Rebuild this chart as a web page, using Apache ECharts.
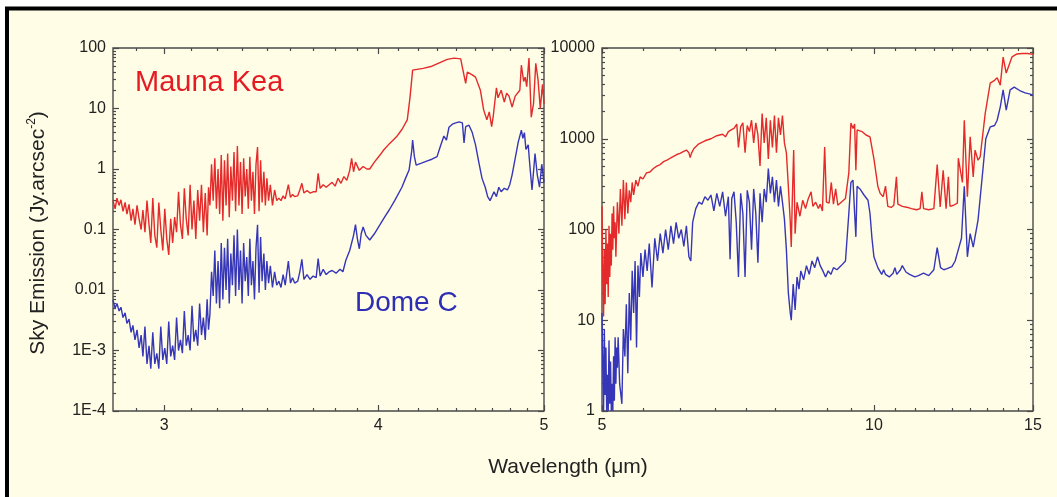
<!DOCTYPE html>
<html>
<head>
<meta charset="utf-8">
<script src="https://cdn.jsdelivr.net/npm/echarts@6/dist/echarts.min.js"></script>
<style>
html,body{margin:0;padding:0;background:#ffffff;}
#chart{width:1057px;height:497px;}
</style>
</head>
<body>
<div id="chart"></div>
<script>
// ---------- tick values and labels ----------
const leftXTicks = [3, 4, 5];
const leftXLabels = ['3', '4', '5'];
const rightXTicks = [5, 10, 15];
const rightXLabels = ['5', '10', '15'];
const leftYTicks = [1e-4, 1e-3, 0.01, 0.1, 1, 10, 100];
const leftYLabels = ['1E-4', '1E-3', '0.01', '0.1', '1', '10', '100'];
const rightYTicks = [1, 10, 100, 1000, 10000];
const rightYLabels = ['1', '10', '100', '1000', '10000'];

// ---------- data: [wavelength (um), sky emission (Jy/arcsec^2)] ----------
const maunaKeaLeft = [
[2.800,0.30],[2.808,0.22],[2.815,0.33],[2.823,0.25],[2.830,0.31],[2.838,0.20],[2.846,0.28],[2.853,0.18],[2.861,0.26],[2.869,0.14],
[2.876,0.22],[2.884,0.12],[2.892,0.25],[2.900,0.15],[2.908,0.10],[2.915,0.21],[2.923,0.09],[2.931,0.30],[2.939,0.12],[2.946,0.06],
[2.954,0.33],[2.962,0.08],[2.970,0.05],[2.978,0.28],[2.986,0.10],[2.994,0.045],[3.002,0.22],[3.010,0.07],[3.018,0.038],[3.026,0.15],
[3.034,0.06],[3.042,0.16],[3.050,0.09],[3.058,0.42],[3.066,0.12],[3.074,0.07],[3.082,0.48],[3.090,0.15],[3.098,0.08],[3.106,0.55],
[3.114,0.10],[3.122,0.30],[3.130,0.07],[3.138,0.45],[3.146,0.14],[3.154,0.55],[3.162,0.09],[3.170,0.40],[3.178,0.08],[3.184,0.50],
[3.190,0.25],[3.197,1.2],[3.204,0.30],[3.211,1.5],[3.218,0.22],[3.225,1.0],[3.232,0.18],[3.239,1.7],[3.246,0.14],[3.253,1.4],
[3.260,0.25],[3.267,1.8],[3.274,0.16],[3.281,1.1],[3.288,0.30],[3.295,1.9],[3.302,0.20],[3.310,2.4],[3.317,0.25],[3.324,1.3],
[3.331,0.18],[3.338,1.5],[3.345,0.35],[3.352,1.0],[3.359,0.22],[3.366,1.6],[3.373,0.30],[3.380,0.9],[3.387,0.18],[3.394,1.2],
[3.401,2.3],[3.408,0.20],[3.415,1.4],[3.422,0.28],[3.430,0.9],[3.437,0.25],[3.444,0.7],[3.452,0.30],[3.460,0.55],[3.470,0.25],
[3.480,0.45],[3.490,0.30],[3.500,0.33],[3.510,0.30],[3.520,0.36],[3.530,0.32],[3.545,0.55],[3.555,0.34],[3.565,0.38],[3.575,0.35],
[3.590,0.36],[3.600,0.45],[3.610,0.58],[3.620,0.40],[3.635,0.44],[3.650,0.40],[3.665,0.42],[3.680,0.42],[3.690,0.85],[3.700,0.48],
[3.715,0.55],[3.730,0.50],[3.745,0.55],[3.760,0.60],[3.775,0.52],[3.790,0.70],[3.805,0.58],[3.820,0.75],[3.835,0.65],[3.850,0.95],
[3.860,1.5],[3.870,0.9],[3.880,1.3],[3.900,0.95],[3.920,1.1],[3.940,1.0],[3.955,1.0],[3.980,1.3],[4.010,1.7],[4.030,2.06],
[4.060,2.6],[4.100,3.4],[4.130,4.5],[4.160,6.5],[4.175,15],[4.190,43],[4.250,46],[4.300,50],[4.350,58],[4.390,65],
[4.430,68],[4.470,66],[4.480,48],[4.500,26],[4.510,40],[4.540,36],[4.560,33],[4.590,20],[4.610,9.5],[4.630,6.5],
[4.645,8.8],[4.660,5],[4.670,7.5],[4.690,22],[4.700,15],[4.720,20],[4.740,12.8],[4.755,18],[4.770,16],[4.790,10.6],
[4.810,16],[4.840,20],[4.850,52],[4.865,28],[4.875,33],[4.885,23],[4.900,68],[4.915,7.2],[4.930,12],[4.945,56],
[4.960,30],[4.975,10],[4.990,25],[5.000,12]
];

const domeCLeft = [
[2.800,0.0068],[2.808,0.0050],[2.815,0.0060],[2.823,0.0045],[2.830,0.0052],[2.838,0.0035],[2.846,0.0042],[2.853,0.0028],[2.861,0.0033],[2.869,0.0020],
[2.876,0.0026],[2.884,0.0015],[2.892,0.0022],[2.900,0.0011],[2.908,0.0018],[2.915,0.0008],[2.923,0.0025],[2.931,0.0006],[2.939,0.0012],[2.946,0.0005],
[2.954,0.0020],[2.962,0.0006],[2.970,0.0009],[2.978,0.0005],[2.986,0.0025],[2.994,0.0007],[3.002,0.0011],[3.010,0.0006],[3.018,0.0030],[3.026,0.0008],
[3.034,0.0012],[3.042,0.0007],[3.050,0.0035],[3.058,0.0010],[3.066,0.0015],[3.074,0.0009],[3.082,0.0045],[3.090,0.0012],[3.098,0.0018],[3.106,0.0010],
[3.114,0.0055],[3.122,0.0014],[3.130,0.0022],[3.138,0.0012],[3.146,0.0060],[3.154,0.0018],[3.162,0.0035],[3.170,0.0015],[3.178,0.0070],[3.184,0.0022],
[3.190,0.0040],[3.197,0.020],[3.204,0.008],[3.211,0.045],[3.218,0.006],[3.225,0.030],[3.232,0.005],[3.239,0.060],[3.246,0.007],[3.253,0.050],
[3.260,0.010],[3.267,0.070],[3.274,0.006],[3.281,0.040],[3.288,0.012],[3.295,0.080],[3.302,0.008],[3.310,0.100],[3.317,0.010],[3.324,0.045],
[3.331,0.006],[3.338,0.060],[3.345,0.014],[3.352,0.035],[3.359,0.008],[3.366,0.070],[3.373,0.012],[3.380,0.030],[3.387,0.007],[3.394,0.050],
[3.401,0.120],[3.408,0.009],[3.415,0.075],[3.422,0.014],[3.430,0.040],[3.437,0.010],[3.444,0.030],[3.452,0.013],[3.460,0.025],[3.470,0.011],
[3.480,0.020],[3.490,0.012],[3.500,0.014],[3.510,0.011],[3.520,0.018],[3.530,0.012],[3.545,0.030],[3.555,0.013],[3.565,0.016],[3.575,0.013],
[3.590,0.014],[3.600,0.020],[3.610,0.032],[3.620,0.015],[3.635,0.018],[3.650,0.015],[3.665,0.017],[3.680,0.016],[3.690,0.033],[3.700,0.017],
[3.715,0.022],[3.730,0.018],[3.745,0.020],[3.760,0.021],[3.780,0.019],[3.800,0.022],[3.815,0.020],[3.830,0.031],[3.850,0.045],[3.870,0.080],
[3.880,0.120],[3.890,0.070],[3.900,0.048],[3.910,0.085],[3.920,0.110],[3.935,0.080],[3.955,0.067],[3.980,0.085],[4.010,0.120],[4.040,0.170],
[4.060,0.210],[4.090,0.300],[4.130,0.50],[4.150,0.70],[4.170,0.96],[4.185,2.0],[4.190,3.0],[4.200,1.6],[4.210,1.16],[4.240,1.25],
[4.270,1.35],[4.300,1.45],[4.330,1.6],[4.350,2.4],[4.370,3.5],[4.385,3.0],[4.400,4.9],[4.420,5.5],[4.440,5.8],[4.460,6.0],
[4.480,5.8],[4.490,2.7],[4.500,5.0],[4.520,5.3],[4.540,4.0],[4.560,2.5],[4.580,1.3],[4.600,0.7],[4.620,0.5],[4.635,0.35],
[4.650,0.30],[4.660,0.28],[4.675,0.42],[4.690,0.35],[4.705,0.50],[4.720,0.42],[4.740,0.48],[4.760,0.45],[4.775,0.55],[4.790,0.80],
[4.810,1.5],[4.830,2.8],[4.850,4.4],[4.860,3.2],[4.870,4.0],[4.880,2.1],[4.895,2.5],[4.905,1.2],[4.920,0.45],[4.940,1.8],
[4.955,0.8],[4.970,0.5],[4.985,1.2],[5.000,0.6]
];

const maunaKeaRight = [
[5.00,180],[5.01,30],[5.02,11],[5.03,60],[5.04,15],[5.05,100],[5.06,25],[5.07,70],[5.08,18],[5.09,110],
[5.10,30],[5.11,90],[5.12,40],[5.13,150],[5.14,60],[5.15,180],[5.16,80],[5.17,120],[5.18,50],[5.20,200],
[5.22,90],[5.24,280],[5.26,110],[5.28,350],[5.30,130],[5.32,330],[5.34,150],[5.36,270],[5.38,200],[5.40,330],
[5.42,240],[5.45,350],[5.48,300],[5.51,380],[5.55,360],[5.60,420],[5.65,430],[5.70,470],[5.75,500],[5.80,520],
[5.85,560],[5.90,580],[5.95,610],[6.00,640],[6.05,670],[6.10,690],[6.15,720],[6.20,750],[6.24,700],[6.26,620],
[6.28,690],[6.32,780],[6.40,880],[6.50,950],[6.60,1000],[6.70,1080],[6.80,1120],[6.85,1050],[6.90,1200],[6.95,1250],
[7.00,1300],[7.05,1450],[7.08,800],[7.12,1350],[7.16,1500],[7.20,700],[7.24,1400],[7.28,1200],[7.32,1600],[7.36,900],
[7.40,1500],[7.44,1100],[7.48,500],[7.52,1900],[7.56,900],[7.60,1700],[7.64,600],[7.68,1600],[7.72,800],[7.76,1800],
[7.80,700],[7.84,1700],[7.88,1100],[7.92,1800],[7.96,900],[8.00,700],[8.04,300],[8.08,120],[8.10,64],[8.12,200],
[8.15,750],[8.18,90],[8.22,200],[8.28,140],[8.34,210],[8.40,170],[8.46,220],[8.52,260],[8.56,180],[8.62,200],
[8.68,170],[8.72,190],[8.77,160],[8.82,810],[8.86,200],[8.92,195],[8.97,330],[9.02,190],[9.07,280],[9.12,185],
[9.20,200],[9.30,220],[9.38,420],[9.43,1490],[9.48,1300],[9.52,1450],[9.55,450],[9.58,1250],[9.70,1200],[9.80,1100],
[9.90,1050],[10.00,600],[10.10,300],[10.16,250],[10.24,230],[10.30,300],[10.36,180],[10.45,175],[10.52,185],[10.59,380],
[10.63,190],[10.75,180],[10.90,175],[11.00,170],[11.15,165],[11.25,170],[11.30,260],[11.35,170],[11.50,165],[11.65,170],
[11.75,520],[11.84,177],[11.93,450],[12.02,170],[12.09,380],[12.14,180],[12.25,185],[12.37,195],[12.40,610],[12.53,330],
[12.59,1600],[12.69,230],[12.78,1050],[12.88,380],[12.94,750],[13.04,580],[13.11,630],[13.28,1900],[13.45,4100],[13.60,4400],
[13.69,4700],[13.80,3900],[13.90,7950],[14.01,5300],[14.22,8000],[14.40,8600],[14.60,8700],[14.80,8700],[15.00,8500]
];

const domeCRight = [
[5.00,12],[5.01,3],[5.02,1.0],[5.03,8],[5.04,1.5],[5.05,5],[5.06,1.0],[5.07,2.5],[5.08,1.0],[5.09,6],
[5.10,1.2],[5.11,3.5],[5.12,1.0],[5.13,2.0],[5.14,1.0],[5.15,4],[5.16,1.3],[5.17,6.5],[5.18,2.0],[5.19,5],
[5.20,3.0],[5.21,6.5],[5.23,2.0],[5.26,1.2],[5.28,8],[5.30,4],[5.32,15],[5.34,2.6],[5.36,20],[5.38,6],
[5.40,35],[5.42,12],[5.44,45],[5.46,5],[5.48,40],[5.50,18],[5.52,55],[5.55,30],[5.58,60],[5.61,35],
[5.64,70],[5.68,23],[5.72,80],[5.76,45],[5.80,90],[5.84,55],[5.88,100],[5.92,60],[5.96,110],[6.00,70],
[6.04,120],[6.08,80],[6.12,100],[6.16,65],[6.20,110],[6.24,50],[6.27,45],[6.30,120],[6.35,170],[6.40,200],
[6.45,190],[6.50,230],[6.55,210],[6.60,240],[6.65,160],[6.70,250],[6.75,180],[6.80,260],[6.85,140],[6.90,230],
[6.93,47],[6.96,220],[7.00,260],[7.04,120],[7.08,30],[7.12,250],[7.16,150],[7.20,30],[7.24,270],[7.28,200],
[7.32,60],[7.36,280],[7.40,150],[7.44,43],[7.48,250],[7.52,120],[7.56,280],[7.60,200],[7.64,470],[7.68,250],
[7.72,380],[7.76,200],[7.80,350],[7.84,180],[7.88,300],[7.92,200],[7.96,130],[8.00,60],[8.04,20],[8.08,12],
[8.10,10],[8.14,25],[8.18,13],[8.22,30],[8.26,22],[8.30,35],[8.36,28],[8.42,40],[8.48,32],[8.54,45],
[8.60,38],[8.66,50],[8.72,40],[8.78,35],[8.84,30],[8.90,35],[8.96,32],[9.02,38],[9.10,36],[9.20,40],
[9.30,45],[9.38,150],[9.43,330],[9.48,350],[9.52,150],[9.55,83],[9.58,300],[9.65,280],[9.75,240],[9.85,210],
[9.90,150],[9.95,80],[10.00,50],[10.10,38],[10.20,32],[10.25,36],[10.30,32],[10.40,30],[10.50,33],[10.55,38],
[10.60,32],[10.70,36],[10.75,40],[10.85,34],[10.95,32],[11.10,30],[11.20,31],[11.35,33],[11.50,31],[11.65,36],
[11.75,63],[11.85,38],[11.95,36],[12.05,37],[12.20,39],[12.30,45],[12.40,60],[12.50,80],[12.59,300],[12.69,50],
[12.78,90],[12.88,64],[13.04,128],[13.20,450],[13.30,1000],[13.45,1350],[13.60,1400],[13.69,1600],[13.80,2250],[13.90,3450],
[14.01,2070],[14.15,3450],[14.30,3700],[14.50,3400],[14.70,3200],[14.90,3100],[15.00,3000]
];

// ---------- helpers ----------
function linearMinor(major, parts, min, max) {
  const out = [];
  const step = major[1] - major[0];
  for (let m = major[0] - step; m < major[major.length - 1]; m += step) {
    for (let k = 1; k < parts; k++) {
      const v = m + step * k / parts;
      if (v >= min - 1e-9 && v <= max + 1e-9) out.push(v);
    }
  }
  return out;
}
function logMinor(major) {
  const out = [];
  for (let i = 0; i < major.length - 1; i++) {
    for (let k = 2; k <= 9; k++) out.push(major[i] * k);
  }
  return out;
}
function labelFor(ticks, labels) {
  return function (v) {
    for (let i = 0; i < ticks.length; i++) {
      if (Math.abs(Math.log10(v) - Math.log10(ticks[i])) < 1e-6) return labels[i];
    }
    return '';
  };
}

const AX = '#4a4a4a';
const TXT = '#222222';
const FONT = 'Liberation Sans, Arial, sans-serif';

function axisSet(dim, gridIndex, min, max, major, labels, minor) {
  const posA = dim === 'x' ? 'bottom' : 'left';
  const posB = dim === 'x' ? 'top' : 'right';
  const base = {
    type: 'log', logBase: 10, gridIndex: gridIndex, min: min, max: max,
    axisLine: { show: false, onZero: false },
    splitLine: { show: false }, minorTick: { show: false }, minorSplitLine: { show: false }
  };
  const tick = (vals, len) => ({ show: true, inside: true, length: len, customValues: vals, lineStyle: { color: AX, width: 1.2 } });
  return [
    Object.assign({}, base, {
      position: posA, axisTick: tick(major, 6),
      axisLabel: { show: true, customValues: major, formatter: labelFor(major, labels),
        margin: 7, fontSize: 16, fontFamily: FONT, color: TXT }
    }),
    Object.assign({}, base, { position: posA, axisTick: tick(minor, 3), axisLabel: { show: false } }),
    Object.assign({}, base, { position: posB, axisTick: tick(major, 6), axisLabel: { show: false } }),
    Object.assign({}, base, { position: posB, axisTick: tick(minor, 3), axisLabel: { show: false } })
  ];
}

const leftXMinor = linearMinor(leftXTicks, 9, 2.8, 5);
const rightXMinor = linearMinor(rightXTicks, 9, 5, 15);

const xAxes = axisSet('x', 0, 2.8, 5, leftXTicks, leftXLabels, leftXMinor)
  .concat(axisSet('x', 1, 5, 15, rightXTicks, rightXLabels, rightXMinor));
const yAxes = axisSet('y', 0, 1e-4, 100, leftYTicks, leftYLabels, logMinor(leftYTicks))
  .concat(axisSet('y', 1, 1, 10000, rightYTicks, rightYLabels, logMinor(rightYTicks)));

const RED = '#e42a2a';
const BLUE = '#3636b8';
function line(data, color, axisIdx) {
  return {
    type: 'line', data: data, xAxisIndex: axisIdx, yAxisIndex: axisIdx,
    showSymbol: false, symbol: 'none', silent: true, animation: false,
    lineStyle: { color: color, width: 1.4 }, itemStyle: { color: color }
  };
}

const chart = echarts.init(document.getElementById('chart'), null, { renderer: 'canvas' });
chart.setOption({
  backgroundColor: '#ffffff',
  animation: false,
  grid: [
    { left: 113, top: 48, width: 431, height: 363, show: true, borderColor: AX, borderWidth: 1.4, backgroundColor: 'transparent', containLabel: false, outerBoundsMode: 'none' },
    { left: 602, top: 48, width: 431, height: 363, show: true, borderColor: AX, borderWidth: 1.4, backgroundColor: 'transparent', containLabel: false, outerBoundsMode: 'none' }
  ],
  xAxis: xAxes,
  yAxis: yAxes,
  series: [
    line(maunaKeaLeft, RED, 0),
    line(domeCLeft, BLUE, 0),
    line(maunaKeaRight, RED, 4),
    line(domeCRight, BLUE, 4)
  ],
  graphic: [
    { type: 'rect', z: -100, silent: true,
      shape: { x: 7, y: 8.5, width: 1100, height: 600 },
      style: { fill: '#fffde6', stroke: '#000000', lineWidth: 4 } },
    { type: 'text', x: 135, y: 83, z: 10, silent: true,
      style: { text: 'Mauna Kea', fill: '#e31b23', font: '29px ' + FONT, align: 'left', verticalAlign: 'middle' } },
    { type: 'text', x: 355, y: 303, z: 10, silent: true,
      style: { text: 'Dome C', fill: '#2e2eb4', font: '28px ' + FONT, align: 'left', verticalAlign: 'middle' } },
    { type: 'text', x: 568, y: 467, z: 10, silent: true,
      style: { text: 'Wavelength (\u03bcm)', fill: TXT, font: '21px ' + FONT, align: 'center', verticalAlign: 'middle' } },
    { type: 'text', x: 38, y: 233, rotation: Math.PI / 2, z: 10, silent: true,
      style: { text: 'Sky Emission (Jy.arcsec{sup|-2})', fill: TXT, fontSize: 21, fontFamily: FONT,
        lineHeight: 24, align: 'center', verticalAlign: 'middle',
        rich: { sup: { fontSize: 12, fontFamily: FONT, fill: TXT, verticalAlign: 'top', lineHeight: 24 } } } }
  ]
});
</script>
</body>
</html>
